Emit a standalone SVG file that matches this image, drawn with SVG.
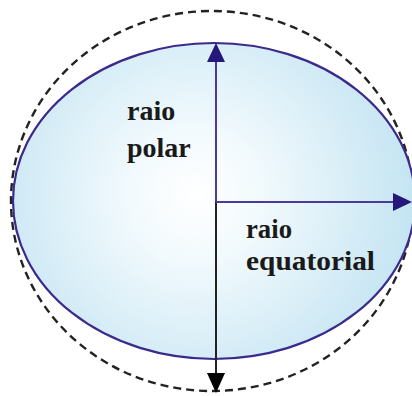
<svg xmlns="http://www.w3.org/2000/svg" width="412" height="396" viewBox="0 0 412 396">
<defs>
<radialGradient id="g" cx="195" cy="195" r="215" gradientUnits="userSpaceOnUse">
<stop offset="0" stop-color="#ffffff"/>
<stop offset="0.3" stop-color="#f2fafd"/>
<stop offset="1" stop-color="#c6e5f3"/>
</radialGradient>
</defs>
<style>
.t{font-family:"Liberation Serif","Times New Roman",serif;font-weight:bold;font-size:28px;fill:#1a1a1a}
</style>
<rect width="412" height="396" fill="#fff"/>
<g id="sphere"><ellipse cx="212" cy="201" rx="201" ry="190" fill="none" stroke="#222" stroke-width="2.4" stroke-dasharray="8,5"/></g>
<g id="ellipsoid"><ellipse cx="214" cy="201" rx="201" ry="158" fill="url(#g)" stroke="#3a2a8c" stroke-width="2.2"/></g>
<g id="connectors">
<line x1="216" y1="202" x2="216" y2="60" stroke="#4a3a9a" stroke-width="2"/>
<path d="M207,62 L216,43 L225,62 Z" fill="#24187a"/>
<line x1="216" y1="202" x2="216" y2="375" stroke="#222" stroke-width="2"/>
<path d="M207,373 L225,373 L216,393 Z" fill="#000"/>
<line x1="216" y1="202" x2="395" y2="202" stroke="#4a3a9a" stroke-width="2"/>
<path d="M393,193 L412,202 L393,211 Z" fill="#24187a"/>
</g>
<g id="label-polar"><text class="t" x="127" y="120">raio</text><text class="t" x="127" y="157">polar</text></g>
<g id="label-equatorial"><text class="t" x="246" y="238" textLength="46" lengthAdjust="spacingAndGlyphs">raio</text><text class="t" x="246" y="270" textLength="129" lengthAdjust="spacingAndGlyphs">equatorial</text></g>
</svg>
